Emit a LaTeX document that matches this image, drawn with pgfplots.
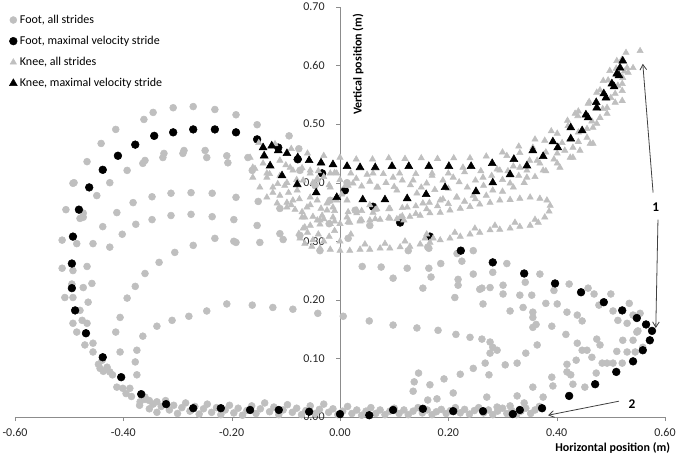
\documentclass[border=0pt]{standalone}
\usepackage{fontspec}
\setmainfont{Carlito}
\usepackage{pgfplots}
\pgfplotsset{compat=1.18}
\usetikzlibrary{arrows.meta}
\definecolor{lgray}{RGB}{191,191,191}
\definecolor{axgray}{RGB}{140,140,140}
\begin{document}
\begin{tikzpicture}
\begin{axis}[
  scale only axis, width=487.5pt, height=307.5pt,
  xmin=-0.6, xmax=0.6, ymin=0, ymax=0.7,
  axis lines=middle, axis line style={draw=axgray,-},
  clip=false,
  xtick={-0.6,-0.4,-0.2,0,0.2,0.4,0.6},
  ytick={0,0.1,0.2,0.3,0.4,0.5,0.6,0.7},
  hide obscured x ticks=false, hide obscured y ticks=false,
  tick align=outside, major tick length=3pt,
  tick style={draw=axgray},
  /pgf/number format/assume math mode=true,
  /pgf/number format/.cd, fixed, fixed zerofill, precision=2, /pgfplots/.cd,
  tick label style={font=\fontsize{9}{11}\selectfont, text=black!85},
  xticklabel style={yshift=-2pt},
  yticklabel style={xshift=-5pt},
  xlabel={\bfseries Horizontal position (m)},
  ylabel={\bfseries Vertical position (m)},
  label style={font=\fontsize{9}{11}\selectfont},
  xlabel style={at={(axis description cs:1.015,-0.076)}, anchor=east},
  ylabel style={at={(axis description cs:0.528,0.860)}, anchor=center, rotate=90},
  legend style={at={(axis description cs:-0.009,0.988)}, anchor=north west,
    draw=none, fill=none, font=\fontsize{9}{11}\selectfont, row sep=4.1pt,
    inner sep=0pt},
  legend cell align=left,
  legend image code/.code={\draw[#1] plot coordinates {(0pt,0pt)};},
]
\coordinate (bl) at (axis cs:-0.6,0);
\coordinate (tr) at (axis cs:0.6,0.7);
% Foot, all strides
\addplot[only marks, mark=*, mark size=2.6pt, color=lgray] coordinates {
(-0.506,0.354) (-0.491,0.400) (-0.467,0.436) (-0.441,0.467) (-0.414,0.491) (-0.362,0.508) (-0.345,0.520) (-0.308,0.528) (-0.271,0.530) (-0.231,0.525) (-0.192,0.516) (-0.153,0.499) (-0.094,0.480) (-0.076,0.458)
(-0.480,0.339) (-0.449,0.378) (-0.425,0.400) (-0.393,0.421) (-0.364,0.433) (-0.360,0.438) (-0.327,0.443) (-0.325,0.450) (-0.290,0.450) (-0.288,0.455) (-0.249,0.455) (-0.246,0.443) (-0.209,0.446) (-0.207,0.434) (-0.170,0.443) (-0.162,0.421)
(-0.412,0.349) (-0.382,0.366) (-0.347,0.376) (-0.312,0.382) (-0.275,0.383) (-0.236,0.382) (-0.192,0.375) (-0.151,0.368) (-0.111,0.356)
(-0.438,0.325) (-0.402,0.312) (-0.377,0.329) (-0.347,0.337) (-0.312,0.344) (-0.275,0.346) (-0.236,0.342) (-0.196,0.337) (-0.153,0.327) (-0.111,0.313)
(-0.513,0.302) (-0.486,0.296) (-0.456,0.296) (-0.425,0.290)
(-0.360,0.245) (-0.334,0.264) (-0.305,0.281) (-0.271,0.293) (-0.231,0.305) (-0.192,0.298) (-0.148,0.298) (-0.105,0.303) (-0.196,0.300)
(-0.378,0.223) (-0.393,0.203) (-0.406,0.170) (-0.414,0.145) (-0.406,0.111) (-0.375,0.114) (-0.378,0.094) (-0.375,0.072) (-0.364,0.138)
(-0.338,0.155) (-0.310,0.165) (-0.279,0.172) (-0.246,0.181) (-0.209,0.193) (-0.162,0.191) (-0.124,0.187) (-0.087,0.184) (-0.041,0.177)
(-0.493,0.399) (-0.474,0.348) (-0.474,0.341) (-0.513,0.254) (-0.493,0.250) (-0.467,0.257) (-0.495,0.227) (-0.474,0.221) (-0.458,0.228) (-0.508,0.204) (-0.493,0.204) (-0.465,0.196) (-0.480,0.182) (-0.493,0.160) (-0.476,0.165) (-0.467,0.160) (-0.486,0.145) (-0.471,0.123) (-0.456,0.126) (-0.456,0.111) (-0.439,0.097) (-0.443,0.083) (-0.425,0.077) (-0.412,0.051) (-0.401,0.049) (-0.388,0.049) (-0.430,0.085) (-0.420,0.072) (-0.437,0.078) (-0.446,0.090)
(-0.369,0.026) (-0.338,0.026) (-0.395,0.040) (-0.385,0.035) (-0.360,0.034) (-0.352,0.028)
(-0.074,0.421) (-0.046,0.395) (-0.018,0.370) (0.013,0.400) (0.028,0.353) (0.055,0.327) (-0.074,0.310) (-0.037,0.284) (0.015,0.305) (-0.020,0.330)
(0.041,0.257) (0.076,0.256) (0.124,0.254) (0.164,0.254) (0.098,0.237) (0.186,0.262) (0.218,0.235) (0.218,0.225) (0.164,0.288) (0.246,0.284) (0.308,0.262) (0.369,0.244) (0.301,0.225) (0.332,0.208) (0.354,0.208) (0.262,0.220) (0.277,0.221) (0.153,0.220) (0.126,0.284) (0.162,0.290) (0.216,0.279) (0.225,0.266) (0.168,0.239) (0.246,0.244) (0.282,0.247) (0.342,0.230) (0.212,0.204) (0.258,0.218) (0.301,0.210) (0.395,0.216) (0.423,0.227) (0.458,0.220) (0.469,0.210) (0.500,0.210) (0.534,0.194) (0.554,0.177)
(0.264,0.193) (0.314,0.181) (0.338,0.187) (0.356,0.179) (0.356,0.170) (0.380,0.194) (0.401,0.193) (0.419,0.179) (0.438,0.174) (0.447,0.164) (0.478,0.191) (0.504,0.181) (0.513,0.165) (0.530,0.160) (0.541,0.174) (0.550,0.147)
(0.142,0.152) (0.181,0.148) (0.214,0.141) (0.240,0.136) (0.262,0.133) (0.277,0.128) (0.282,0.119) (0.290,0.114) (0.277,0.109) (0.268,0.092) (0.246,0.083) (0.222,0.073) (0.192,0.065) (0.166,0.055) (0.135,0.044) (0.275,0.072) (0.305,0.089) (0.327,0.092) (0.343,0.109) (0.364,0.123) (0.356,0.153) (0.391,0.155) (0.362,0.158) (0.417,0.141) (0.438,0.126) (0.447,0.114) (0.436,0.097) (0.419,0.090) (0.419,0.077) (0.426,0.072) (0.430,0.056) (0.391,0.068) (0.393,0.053) (0.375,0.034) (0.356,0.051) (0.327,0.036) (0.340,0.024)
(0.456,0.114) (0.465,0.102) (0.474,0.133) (0.480,0.123) (0.484,0.092) (0.473,0.075) (0.452,0.051) (0.493,0.092) (0.504,0.092) (0.521,0.092) (0.511,0.112) (0.530,0.111) (0.545,0.111) (0.559,0.119) (0.541,0.131) (0.522,0.131) (0.548,0.145)
(0.271,0.034) (0.314,0.019) (0.290,0.017) (0.209,0.041) (0.162,0.029) (0.006,0.172) (0.054,0.164) (0.098,0.157) (0.179,0.031) (0.137,0.060) (0.145,0.075)
(-0.370,0.020) (-0.360,0.030) (-0.352,0.014) (-0.345,0.022) (-0.338,0.008) (-0.330,0.018) (-0.322,0.028) (-0.315,0.012) (-0.307,0.020) (-0.300,0.006) (-0.292,0.016) (-0.285,0.024) (-0.277,0.010) (-0.268,0.018) (-0.260,0.005) (-0.252,0.014) (-0.245,0.022) (-0.237,0.008) (-0.228,0.016) (-0.220,0.004) (-0.212,0.012) (-0.204,0.020) (-0.196,0.007) (-0.188,0.015) (-0.180,0.003) (-0.172,0.011) (-0.163,0.019) (-0.155,0.006) (-0.147,0.014) (-0.139,0.024) (-0.130,0.009) (-0.122,0.017) (-0.113,0.004) (-0.105,0.012) (-0.097,0.021) (-0.088,0.008) (-0.080,0.015) (-0.071,0.004) (-0.063,0.011) (-0.055,0.019) (-0.046,0.006) (-0.038,0.013) (-0.030,0.022) (-0.021,0.008) (-0.013,0.014) (-0.004,0.004)
(0.005,0.010) (0.014,0.018) (0.022,0.006) (0.031,0.012) (0.040,0.003) (0.048,0.010) (0.057,0.016) (0.066,0.006) (0.074,0.012) (0.083,0.004) (0.092,0.010) (0.100,0.015) (0.109,0.006) (0.118,0.012) (0.126,0.004) (0.135,0.010) (0.144,0.016) (0.152,0.007) (0.161,0.012) (0.170,0.004) (0.178,0.009) (0.187,0.013) (0.196,0.006) (0.204,0.011) (0.213,0.016) (0.222,0.007) (0.230,0.013) (0.239,0.005) (0.248,0.011) (0.256,0.016) (0.265,0.007) (0.274,0.012) (0.282,0.004) (0.291,0.010) (0.300,0.015) (0.308,0.006) (0.317,0.011) (0.326,0.004) (0.334,0.010) (0.343,0.015) (0.352,0.006) (0.360,0.012) (0.368,0.018)
};
\addlegendentry{Foot, all strides}
% Foot, maximal velocity stride
\addplot[only marks, mark=*, mark size=2.9pt, color=black] coordinates {
(-0.482,0.354) (-0.463,0.392) (-0.438,0.422) (-0.410,0.446) (-0.378,0.465) (-0.343,0.480) (-0.308,0.486) (-0.271,0.491) (-0.231,0.491) (-0.192,0.486) (-0.153,0.474) (-0.114,0.460) (-0.078,0.440) (-0.033,0.416) (0.009,0.387) (0.061,0.359) (0.111,0.332) (0.166,0.308) (0.223,0.284) (0.282,0.264) (0.340,0.245) (0.397,0.228) (0.445,0.213) (0.487,0.196) (0.521,0.182) (0.548,0.169) (0.565,0.158) (0.576,0.147) (0.572,0.131) (0.559,0.114) (0.541,0.095) (0.510,0.077) (0.471,0.056) (0.423,0.036) (0.373,0.015) (0.332,0.012) (0.319,0.005) (0.264,0.010) (0.209,0.010) (0.153,0.014) (0.098,0.012) (0.054,0.003) (0.000,0.005) (-0.057,0.009) (-0.113,0.012) (-0.166,0.012) (-0.220,0.015) (-0.271,0.015) (-0.321,0.022) (-0.367,0.039) (-0.404,0.068) (-0.438,0.102) (-0.469,0.143) (-0.489,0.182) (-0.495,0.220) (-0.495,0.262) (-0.493,0.308)
};
\addlegendentry{Foot, maximal velocity stride}
% Knee, all strides
\addplot[only marks, mark=triangle*, mark size=2.7pt, color=lgray] coordinates {
(-0.150,0.468) (-0.120,0.466) (-0.090,0.458) (-0.060,0.450) (-0.030,0.446) (0.000,0.443) (0.030,0.440) (0.060,0.440) (0.090,0.442) (0.120,0.441) (0.150,0.442) (0.180,0.441) (0.210,0.442) (0.240,0.442) (0.270,0.445) (0.300,0.452) (0.330,0.462) (0.360,0.474) (0.390,0.488) (0.420,0.506) (0.440,0.522) (0.460,0.538) (0.480,0.558) (0.495,0.575) (0.510,0.595) (0.520,0.610) (0.528,0.622) (0.554,0.625)
(0.541,0.596) (0.532,0.588) (0.521,0.569) (0.521,0.540) (0.508,0.552) (0.493,0.528) (0.480,0.511) (0.467,0.494) (0.462,0.467) (0.443,0.455) (0.425,0.443) (0.401,0.433) (0.375,0.421) (0.345,0.409) (0.314,0.399) (0.282,0.387) (0.246,0.378) (0.216,0.375) (0.185,0.370) (0.153,0.365) (0.124,0.358) (0.092,0.356) (0.061,0.349) (0.031,0.348)
(-0.100,0.430) (-0.070,0.425) (-0.040,0.420) (-0.010,0.417) (0.020,0.416) (0.050,0.414) (0.080,0.415) (0.110,0.416) (0.140,0.415) (0.170,0.416) (0.200,0.416) (0.230,0.418) (0.260,0.420) (0.290,0.423) (0.320,0.428) (0.350,0.438) (0.380,0.452) (0.410,0.468) (0.440,0.486) (0.465,0.505) (0.485,0.526) (0.500,0.545) (0.513,0.566) (0.525,0.590)
(-0.080,0.405) (-0.050,0.400) (-0.020,0.396) (0.010,0.395) (0.040,0.394) (0.070,0.392) (0.100,0.393) (0.130,0.396) (0.160,0.399) (0.190,0.404) (0.220,0.401) (0.250,0.404) (0.280,0.412) (0.310,0.420)
(0.061,0.416) (0.098,0.409) (0.135,0.404) (0.170,0.412) (0.209,0.409) (0.227,0.426) (0.264,0.409) (0.295,0.421) (0.332,0.426) (0.364,0.438) (0.068,0.392) (0.105,0.387) (0.142,0.382) (0.024,0.399)
(-0.030,0.410) (0.000,0.405) (0.030,0.407) (0.055,0.402) (0.085,0.400) (0.115,0.404) (0.150,0.392) (0.175,0.388) (0.200,0.390) (0.235,0.392) (0.265,0.395) (0.300,0.405) (0.330,0.412)
(0.160,0.355) (0.180,0.360) (0.200,0.364) (0.230,0.368) (0.250,0.372) (0.270,0.378) (0.300,0.385) (0.320,0.392) (0.340,0.400) (0.360,0.410) (0.380,0.420) (0.395,0.440) (0.415,0.455) (0.440,0.470)
(0.015,0.395) (0.003,0.380) (0.055,0.362) (0.068,0.355) (0.105,0.338) (0.118,0.336) (0.160,0.312) (0.172,0.305)
(-0.130,0.415) (-0.115,0.398) (-0.095,0.383) (-0.075,0.372) (-0.055,0.362) (-0.035,0.356) (-0.010,0.352) (0.015,0.350) (0.040,0.352) (0.065,0.354) (0.090,0.355) (0.115,0.357) (0.140,0.360) (0.165,0.366) (0.190,0.372) (0.215,0.375)
(-0.090,0.362) (-0.070,0.350) (-0.050,0.342) (-0.030,0.338) (-0.010,0.334) (0.015,0.333) (0.040,0.336) (0.065,0.338) (0.090,0.340) (0.115,0.343) (0.140,0.347)
(-0.074,0.305) (-0.065,0.296) (-0.052,0.291) (-0.037,0.288) (-0.018,0.286) (0.000,0.284) (0.018,0.284) (0.037,0.286) (0.055,0.286) (0.074,0.288) (0.092,0.288) (0.111,0.290) (0.129,0.291) (0.148,0.295) (0.166,0.298) (0.185,0.302) (0.203,0.305) (0.222,0.308) (0.240,0.312) (0.258,0.315) (0.277,0.319) (0.295,0.320) (0.314,0.322) (0.332,0.325) (0.351,0.327) (0.366,0.332) (0.378,0.341) (0.386,0.351) (0.388,0.361) (0.382,0.370) (0.369,0.373) (0.351,0.375) (0.332,0.373) (0.314,0.371) (0.295,0.370) (0.277,0.366) (0.258,0.363) (0.240,0.359) (0.222,0.356) (0.203,0.353) (0.185,0.349) (0.166,0.348) (0.148,0.344) (0.129,0.342) (0.111,0.341) (0.092,0.339) (0.074,0.337) (0.055,0.336) (0.037,0.334) (0.018,0.332) (0.000,0.330) (-0.018,0.330) (-0.037,0.329) (-0.055,0.327) (-0.068,0.322) (-0.076,0.313)
(0.212,0.315) (0.249,0.322) (0.286,0.327) (0.323,0.332) (0.360,0.337) (0.157,0.305) (0.120,0.300) (0.083,0.296) (0.046,0.295)
(-0.060,0.315) (-0.040,0.312) (-0.020,0.308) (-0.050,0.302) (-0.030,0.300) (0.000,0.300) (0.020,0.312) (-0.010,0.318)
(-0.166,0.443) (-0.157,0.424) (-0.135,0.409) (-0.124,0.392) (-0.111,0.378) (-0.098,0.366) (-0.083,0.354) (-0.065,0.341) (-0.042,0.336) (-0.065,0.324) (-0.033,0.344) (-0.024,0.365) (-0.055,0.375) (-0.079,0.387) (-0.102,0.395) (-0.111,0.412) (-0.068,0.404) (-0.042,0.407) (-0.087,0.421) (-0.055,0.421) (-0.018,0.416) (-0.013,0.358) (0.013,0.370) (0.031,0.353) (0.037,0.336) (0.013,0.341)
(-0.142,0.433) (-0.135,0.416) (-0.124,0.383) (-0.098,0.400) (-0.087,0.370) (-0.061,0.358) (-0.042,0.370) (-0.024,0.353) (-0.013,0.341) (-0.037,0.336) (-0.070,0.341) (-0.098,0.358) (-0.116,0.365) (-0.135,0.375) (-0.148,0.392) (-0.161,0.409) (-0.161,0.426) (-0.111,0.438) (-0.092,0.426) (-0.074,0.421) (-0.055,0.416) (-0.042,0.404) (-0.018,0.392) (-0.006,0.416) (-0.006,0.370)
(0.434,0.518) (0.456,0.492) (0.467,0.467) (0.430,0.443) (0.401,0.450) (0.369,0.433) (0.345,0.421) (0.406,0.426) (0.430,0.460) (0.456,0.477) (0.474,0.501) (0.493,0.518) (0.508,0.537) (0.521,0.557) (0.522,0.579) (0.530,0.596) (0.511,0.608) (0.498,0.591) (0.486,0.574) (0.474,0.554) (0.458,0.535) (0.439,0.514) (0.421,0.497) (0.401,0.484) (0.378,0.472) (0.356,0.460) (0.332,0.451) (0.308,0.446)
};
\addlegendentry{Knee, all strides}
% Knee, maximal velocity stride
\addplot[only marks, mark=triangle*, mark size=3.4pt, color=black] coordinates {
(-0.142,0.460) (-0.126,0.463) (-0.114,0.455) (-0.098,0.450) (-0.078,0.443) (-0.057,0.438) (-0.035,0.434) (-0.013,0.431) (0.013,0.428) (0.037,0.426) (0.065,0.426) (0.096,0.428) (0.127,0.428) (0.164,0.428) (0.201,0.428) (0.242,0.428) (0.281,0.433) (0.321,0.440) (0.356,0.455) (0.393,0.470) (0.426,0.494) (0.454,0.516) (0.473,0.537) (0.487,0.552) (0.502,0.569) (0.511,0.586) (0.517,0.596) (0.522,0.608)
(-0.140,0.446) (-0.129,0.429) (-0.107,0.412) (-0.079,0.397) (-0.044,0.383) (-0.006,0.375) (0.042,0.371) (0.083,0.371) (0.124,0.373) (0.159,0.380) (0.194,0.392) (0.251,0.385) (0.282,0.400) (0.314,0.414) (0.345,0.429) (0.375,0.445) (0.402,0.460) (0.426,0.475) (0.447,0.489) (0.458,0.511) (0.474,0.528) (0.491,0.545) (0.506,0.564) (0.515,0.583)
};
\addlegendentry{Knee, maximal velocity stride}
% annotations
\draw[black!75, line width=0.6pt, -{Straight Barb[length=4pt,width=5pt]}] (axis cs:0.578,0.383) -- (axis cs:0.559,0.603);
\draw[black!75, line width=0.6pt, -{Straight Barb[length=4pt,width=5pt]}] (axis cs:0.587,0.337) -- (axis cs:0.583,0.152);
\draw[black!75, line width=0.6pt, -{Straight Barb[length=4pt,width=5pt]}] (axis cs:0.515,0.027) -- (axis cs:0.384,0.003);
\node[font=\fontsize{10}{12}\selectfont\bfseries] at (axis cs:0.583,0.358) {1};
\node[font=\fontsize{10}{12}\selectfont\bfseries] at (axis cs:0.539,0.022) {2};
\end{axis}
\pgfresetboundingbox
\useasboundingbox ([shift={(-11.25pt,-29.25pt)}]bl) rectangle ([shift={(11.25pt,5.25pt)}]tr);
\end{tikzpicture}
\end{document}
